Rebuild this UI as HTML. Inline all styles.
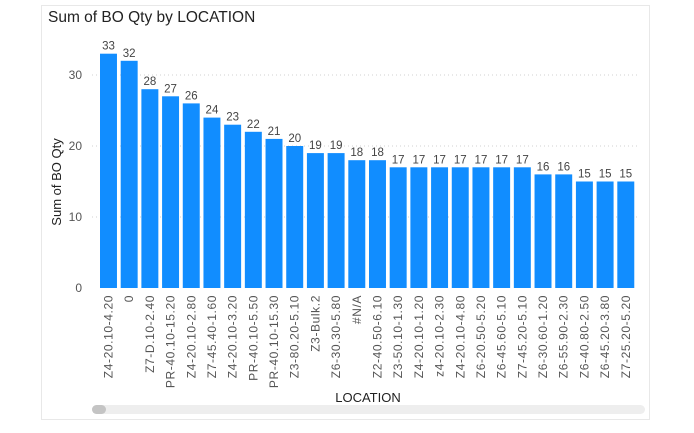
<!DOCTYPE html>
<html><head><meta charset="utf-8"><style>
body{margin:0;width:694px;height:433px;background:#fff;overflow:hidden;font-family:"Liberation Sans",sans-serif}
#frame{position:absolute;left:41px;top:5px;width:609px;height:415px;border:1px solid #e8e8e8;box-sizing:border-box}
</style></head><body>
<div id="frame"></div>
<svg width="694" height="433" style="position:absolute;left:0;top:0">
<text x="48" y="22" font-size="15.5" fill="#222">Sum of BO Qty by LOCATION</text>
<text transform="translate(61,182) rotate(-90)" text-anchor="middle" font-size="13" fill="#222">Sum of BO Qty</text>
<text x="368" y="402" text-anchor="middle" font-size="13" fill="#222">LOCATION</text>
<rect x="92" y="405" width="553" height="9" rx="4.5" fill="#eeeeee"/>
<rect x="92" y="405" width="14" height="9" rx="4.5" fill="#c4c4c4"/>
<g id="g"></g>
</svg>
<script>
const categories=["Z4-20.10-4.20","0","Z7-D.10-2.40","PR-40.10-15.20","Z4-20.10-2.80","Z7-45.40-1.60","Z4-20.10-3.20","PR-40.10-5.50","PR-40.10-15.30","Z3-80.20-5.10","Z3-Bulk.2","Z6-30.30-5.80","#N/A","Z2-40.50-6.10","Z3-50.10-1.30","Z4-20.10-1.20","z4-20.10-2.30","Z4-20.10-4.80","Z6-20.50-5.20","Z6-45.60-5.10","Z7-45.20-5.10","Z6-30.60-1.20","Z6-55.90-2.30","Z6-40.80-2.50","Z6-45.20-3.80","Z7-25.20-5.20"];
const values=[33,32,28,27,26,24,23,22,21,20,19,19,18,18,17,17,17,17,17,17,17,16,16,15,15,15];
const yTicks=[0,10,20,30];
const g=document.getElementById('g');const NS='http://www.w3.org/2000/svg';
const x0=100,x1=638,y0=288,pxPer=7.1;
const step=(x1-x0)/categories.length,bw=step*0.82;
const y=v=>y0-v*pxPer;
function el(t,a,txt){const e=document.createElementNS(NS,t);for(const k in a)e.setAttribute(k,a[k]);if(txt!=null)e.textContent=txt;g.appendChild(e);return e;}
yTicks.forEach(t=>{
 if(t>0){const l=el('line',{x1:92,x2:640,y1:y(t),y2:y(t),stroke:'#d0d0d0','stroke-dasharray':'1,3'});
 
 }
 const tx=el('text',{x:82,y:y(t)+4,'text-anchor':'end','font-size':12,fill:'#555'},t);
 
 
});
categories.forEach((c,i)=>{
 const bx=x0+i*step,cx=bx+bw/2;
 const r=el('rect',{x:bx,y:y(values[i]),width:bw,height:values[i]*pxPer,fill:'#118dff'});
 
 
 const v=el('text',{x:cx,y:y(values[i])-4,'text-anchor':'middle','font-size':11.5,fill:'#444'},values[i]);
 
 
 const lb=el('text',{transform:`translate(${cx+4},295) rotate(-90)`,'text-anchor':'end','font-size':12,'letter-spacing':'0.6',fill:'#555'},c);
 
 
});
</script>
</body></html>
